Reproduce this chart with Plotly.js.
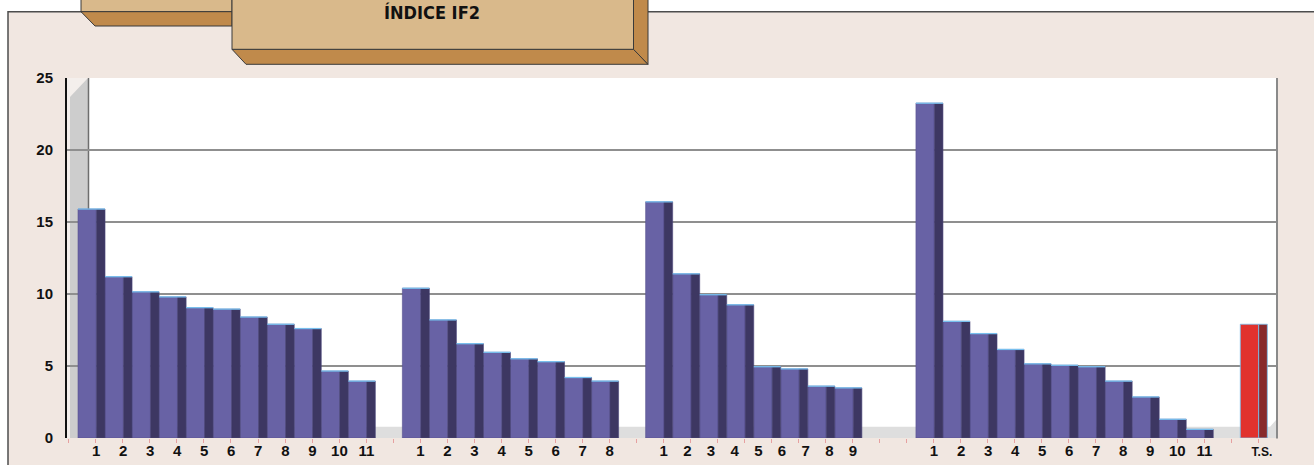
<!DOCTYPE html>
<html>
<head>
<meta charset="utf-8">
<script src="https://cdn.plot.ly/plotly-3.0.1.min.js"></script>
<style>
  html, body { margin: 0; padding: 0; background: #ffffff; }
  #chart { width: 1314px; height: 465px; }
</style>
</head>
<body>
<div id="chart"></div>
<script>
// ---- data ----
const g1Labels = ['1','2','3','4','5','6','7','8','9','10','11'];
const g1Values = [15.9, 11.2, 10.15, 9.8, 9.05, 8.95, 8.4, 7.9, 7.6, 4.65, 3.95];

const g2Labels = ['1','2','3','4','5','6','7','8'];
const g2Values = [10.4, 8.2, 6.55, 5.95, 5.5, 5.3, 4.2, 3.95];

const g3Labels = ['1','2','3','4','5','6','7','8','9'];
const g3Values = [16.4, 11.4, 9.95, 9.25, 4.95, 4.8, 3.6, 3.48];

const g4Labels = ['1','2','3','4','5','6','7','8','9','10','11'];
const g4Values = [23.25, 8.1, 7.25, 6.15, 5.15, 5.05, 4.95, 3.95, 2.85, 1.3, 0.6];

const tsLabel = 'T.S.';
const tsValue = 7.9;

const titleText = 'ÍNDICE IF2';
const yTicks = [0, 5, 10, 15, 20, 25];

// ---- layout helpers ----
const W = 1314, H = 465;
const ML = 67, MR = 37, MT = 78, MB = 27;
const PW = W - ML - MR, PH = H - MT - MB;
const PX = p => (p - ML) / PW;          // pixel -> paper x
const PY = p => (H - MB - p) / PH;      // pixel -> paper y

const groups = [
  {v: g1Values, l: g1Labels},
  {v: g2Values, l: g2Labels},
  {v: g3Values, l: g3Labels},
  {v: g4Values, l: g4Labels}
];
const gapAfter = [1, 1, 2, 1];
const LABEL_OFF = 0.17;

let slot = 0;
const xs = [], ys = [], tickvals = [], ticktext = [];
groups.forEach((g, i) => {
  const start = slot;
  g.v.forEach(val => { xs.push(slot); ys.push(val); slot++; });
  const n = g.l.length, span = g.v.length - 1;
  g.l.forEach((lab, k) => {
    tickvals.push(start + LABEL_OFF + (n > 1 ? k * span / (n - 1) : 0));
    ticktext.push(lab);
  });
  slot += gapAfter[i];
});
const tsSlot = slot;
tickvals.push(tsSlot + 0.3);
ticktext.push('<span style="font-size:12px">' + tsLabel + '</span>');

const FRONT_W = 0.68, SIDE_W = 0.32;
const EDGE_H = 0.09;   // thickness of the light top edge, in axis units
const sep = {color: '#57518f', width: 0.6};

const traces = [
  {type: 'bar', x: xs, y: ys, width: FRONT_W, offset: -0.5,
   marker: {color: '#6862a5', line: sep}, hoverinfo: 'skip'},
  {type: 'bar', x: xs, y: ys, width: SIDE_W, offset: -0.5 + FRONT_W,
   marker: {color: '#3d3762', line: {color: '#4a447a', width: 0.6}}, hoverinfo: 'skip'},
  {type: 'bar', x: xs, y: ys.map(() => EDGE_H), base: ys.map(v => v - EDGE_H / 2),
   width: 1, offset: -0.5, marker: {color: '#78bfee', line: {width: 0}}, hoverinfo: 'skip'},
  {type: 'bar', x: [tsSlot], y: [tsValue], width: FRONT_W, offset: -0.5,
   marker: {color: '#e1322e', line: {color: '#78bfee', width: 0.8}}, hoverinfo: 'skip'},
  {type: 'bar', x: [tsSlot], y: [tsValue], width: SIDE_W, offset: -0.5 + FRONT_W,
   marker: {color: '#882a2c', line: {color: '#78bfee', width: 0.8}}, hoverinfo: 'skip'}
];

const xRange = [-0.5 - 11 / 27.03, -0.5 + (1277 - 78) / 27.03];

const brown = '#c08a4b', tan = '#d9b98b', dark = '#3a3a3a';
const poly = pts => 'M' + pts.map(p => PX(p[0]) + ',' + PY(p[1])).join(' L') + ' Z';

const shapes = [
  // panel
  {type: 'rect', xref: 'paper', yref: 'paper', layer: 'below',
   x0: PX(8), x1: PX(1330), y0: PY(11.7), y1: PY(480),
   fillcolor: '#f1e7e1', line: {color: '#4d4d4d', width: 1.5}},
  // plot area white
  {type: 'rect', xref: 'paper', yref: 'paper', layer: 'below',
   x0: PX(88), x1: PX(1277), y0: PY(438), y1: PY(78),
   fillcolor: '#ffffff', line: {width: 0}},
  // left wall background
  {type: 'rect', xref: 'paper', yref: 'paper', layer: 'below',
   x0: PX(67), x1: PX(88), y0: PY(438), y1: PY(78),
   fillcolor: '#f4efec', line: {width: 0}},
  // left wall (gray)
  {type: 'path', xref: 'paper', yref: 'paper', layer: 'below',
   path: poly([[70, 97], [87, 79], [88, 79], [88, 438], [70, 438]]),
   fillcolor: '#cdcdcd', line: {width: 0}},
  {type: 'line', xref: 'paper', yref: 'paper', layer: 'below',
   x0: PX(88.5), x1: PX(88.5), y0: PY(438), y1: PY(78),
   line: {color: '#6e6e6e', width: 1.5}},
  // floor
  {type: 'path', xref: 'paper', yref: 'paper', layer: 'between',
   path: poly([[89, 438], [89, 426.7], [1270, 426.7], [1276, 420], [1276, 438]]),
   fillcolor: '#dedede', line: {width: 0}},
  // right edge
  {type: 'line', xref: 'paper', yref: 'paper', layer: 'above',
   x0: PX(1277), x1: PX(1277), y0: PY(438.5), y1: PY(78),
   line: {color: '#8a8a8a', width: 2}},
  // small header box
  {type: 'rect', xref: 'paper', yref: 'paper', layer: 'below',
   x0: PX(81), x1: PX(232), y0: PY(11.7), y1: PY(-2),
   fillcolor: tan, line: {color: dark, width: 1}},
  {type: 'path', xref: 'paper', yref: 'paper', layer: 'below',
   path: poly([[81, 11.7], [232, 11.7], [232, 26], [95, 26]]),
   fillcolor: brown, line: {color: dark, width: 1}},
  // big header box
  {type: 'path', xref: 'paper', yref: 'paper', layer: 'below',
   path: poly([[232, 49.3], [633.5, 49.3], [648, 64.3], [246, 64.3]]),
   fillcolor: brown, line: {color: dark, width: 1}},
  {type: 'path', xref: 'paper', yref: 'paper', layer: 'below',
   path: poly([[633.5, -2], [648, -2], [648, 64.3], [633.5, 49.3]]),
   fillcolor: brown, line: {color: dark, width: 1}},
  {type: 'rect', xref: 'paper', yref: 'paper', layer: 'below',
   x0: PX(232), x1: PX(633.5), y0: PY(49.3), y1: PY(-2),
   fillcolor: tan, line: {color: dark, width: 1}}
];

const layout = {
  width: W, height: H,
  margin: {l: ML, r: MR, t: MT, b: MB, pad: 0},
  paper_bgcolor: '#ffffff',
  plot_bgcolor: 'rgba(0,0,0,0)',
  barmode: 'overlay',
  showlegend: false,
  font: {family: 'Liberation Sans, Arial, sans-serif', color: '#111111'},
  xaxis: {
    range: xRange, fixedrange: true,
    tickmode: 'array', tickvals: tickvals, ticktext: ticktext,
    ticks: '', showgrid: false, zeroline: false, showline: false,
    tickfont: {size: 15, weight: 'bold', color: '#111111'},
    ticklabelstandoff: 2,
    minor: {tickmode: 'linear', tick0: LABEL_OFF - 0.01, dtick: 1,
            ticks: 'outside', ticklen: 4, tickwidth: 1, tickcolor: '#e6a0a0', showgrid: false}
  },
  yaxis: {
    range: [0, 25], fixedrange: true,
    tickmode: 'array', tickvals: yTicks,
    showgrid: true, gridcolor: '#8f8f8f', gridwidth: 1.5,
    zeroline: false, showline: true, linecolor: '#111111', linewidth: 2,
    ticks: '', ticklabelstandoff: 9,
    tickfont: {size: 15, weight: 'bold', color: '#111111'}
  },
  shapes: shapes,
  annotations: [
    {text: titleText, xref: 'paper', yref: 'paper', x: PX(432), y: PY(12.5),
     xanchor: 'center', yanchor: 'middle', showarrow: false,
     font: {family: 'DejaVu Sans Condensed, DejaVu Sans, sans-serif',
            size: 18, weight: 'bold', color: '#111111'}}
  ]
};

Plotly.newPlot('chart', traces, layout, {displayModeBar: false, staticPlot: true});
</script>
</body>
</html>
